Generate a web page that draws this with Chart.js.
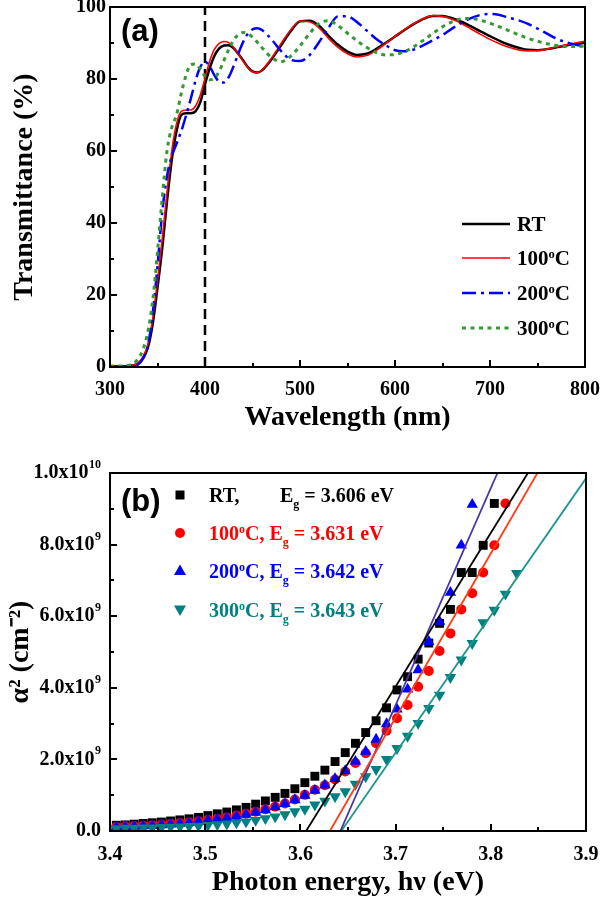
<!DOCTYPE html>
<html>
<head>
<meta charset="utf-8">
<script src="https://cdn.jsdelivr.net/npm/chart.js@4.4.1/dist/chart.umd.min.js"></script>
<style>
html,body{margin:0;padding:0;background:#fff;}
body{width:600px;height:897px;position:relative;overflow:hidden;font-family:'Liberation Serif','Times New Roman',serif;font-weight:bold;}
#wrapA{position:absolute;left:0;top:0;width:600px;height:440px;}
#wrapB{position:absolute;left:0;top:440px;width:600px;height:457px;}
.lbl{position:absolute;white-space:nowrap;line-height:24px;height:24px;}
.lgA{font-size:21px;color:#000;}
.lgB{font-size:20px;}
.lbl sup{font-size:0.6em;position:relative;top:-0.55em;vertical-align:baseline;line-height:0;}
.lbl sub{font-size:0.6em;position:relative;top:0.5em;vertical-align:baseline;line-height:0;}
.panel{position:absolute;font-family:'Liberation Sans',Arial,sans-serif;font-weight:bold;font-size:31px;line-height:34px;color:#000;}
</style>
</head>
<body>
<div id="wrapA"><canvas id="chartA" width="600" height="440"></canvas></div>
<div id="wrapB"><canvas id="chartB" width="600" height="457"></canvas></div>

<svg width="600" height="897" style="position:absolute;left:0;top:0;pointer-events:none">
  <line x1="462" y1="224" x2="510" y2="224" stroke="#000000" stroke-width="2.5"/>
  <line x1="462" y1="258" x2="510" y2="258" stroke="#FF0000" stroke-width="1.6"/>
  <line x1="462" y1="293" x2="510" y2="293" stroke="#0000FF" stroke-width="2.5" stroke-dasharray="14 5 3 5"/>
  <line x1="462" y1="328" x2="510" y2="328" stroke="#339933" stroke-width="3" stroke-dasharray="4 4.5"/>
  <rect x="175.5" y="490.5" width="9" height="9" fill="#000000"/>
  <circle cx="180" cy="533" r="5" fill="#FF0000"/>
  <polygon points="180,564.5 186,575 174,575" fill="#0000FF"/>
  <polygon points="180,616 186,605.5 174,605.5" fill="#008080"/>
</svg>

<div class="panel" style="left:121px;top:14px">(a)</div>
<div class="panel" style="left:121px;top:484px">(b)</div>

<div class="lbl lgA" style="left:517px;top:212px">RT</div>
<div class="lbl lgA" style="left:517px;top:246px">100<sup>o</sup>C</div>
<div class="lbl lgA" style="left:517px;top:281px">200<sup>o</sup>C</div>
<div class="lbl lgA" style="left:517px;top:316px">300<sup>o</sup>C</div>

<div class="lbl lgB" style="left:209px;top:483px;color:#000000">RT,</div>
<div class="lbl lgB" style="left:280px;top:483px;color:#000000">E<sub>g</sub> = 3.606 eV</div>
<div class="lbl lgB" style="left:209px;top:521px;color:#FF0000">100<sup>o</sup>C, E<sub>g</sub> = 3.631 eV</div>
<div class="lbl lgB" style="left:209px;top:559px;color:#0000FF">200<sup>o</sup>C, E<sub>g</sub> = 3.642 eV</div>
<div class="lbl lgB" style="left:209px;top:598px;color:#008080">300<sup>o</sup>C, E<sub>g</sub> = 3.643 eV</div>

<script>
// ---------------- Panel (a): transmittance ----------------
const wavelength = [300,310,320,325,330,335,340,345,350,355,360,365,370,375,380,385,390,395,400,405,410,415,420,425,430,435,440,445,450,455,460,470,480,490,500,510,520,530,540,550,560,570,580,590,600,610,620,630,640,650,660,670,680,690,700,710,720,730,740,750,760,770,780,790,800];
const transRT  = [0.2,0.2,0.3,0.5,1.0,2.5,5.5,12,22,33,46,57.5,65.5,70,70.5,70.5,71,73.5,78.5,83,86.5,88.5,89.3,89.4,88.6,87,85.2,83.3,82.1,81.8,82.4,85.5,89.3,93.2,96.0,96.2,94.8,92.0,89.5,87.6,86.7,87.0,88.3,90.0,91.8,93.6,95.3,96.7,97.5,97.5,96.9,95.9,94.6,93.2,91.9,90.6,89.5,88.7,88.1,88.0,88.3,88.8,89.3,89.7,90.1];
const trans100 = [0.2,0.2,0.3,0.6,1.2,3,6.5,13.5,24,35.5,48.5,60,67.5,71,71.4,71.4,72.5,75.5,80.2,85,88.3,89.9,90.4,90.1,88.8,87,85,83.2,82,81.8,82.5,85.8,89.8,93.6,96.1,95.9,94.2,91.3,88.8,87,86.1,86.5,87.9,89.8,91.8,93.7,95.4,96.8,97.6,97.4,96.6,95.4,93.9,92.4,91.0,89.8,88.8,88.1,87.8,87.9,88.3,88.9,89.5,90.0,90.5];
const trans200 = [0.2,0.2,0.2,0.3,0.8,2.5,6,15,28,43,53,58.5,62,65.5,69.8,74.5,79.5,83.3,84.8,83.5,81,79.2,79,80.5,83.5,87,90.2,92.6,93.8,94.1,93.6,91,87.8,85.4,85,86.6,90.2,94.2,97.4,97.4,95.8,93.5,91.2,89.4,88.0,87.7,88.2,89.4,90.8,92.2,94.0,95.6,96.9,97.8,98.1,97.8,97.0,96.3,95.3,94.0,92.6,91.2,90.2,89.5,89.2];
const trans300 = [0.3,0.3,0.5,1.0,2.5,5,10,18.5,32,47,60,66.5,70,76,81,84,84.2,82.8,80.8,79.8,80.2,82.2,85.2,88.3,90.8,92.3,92.9,92.6,91.6,90.2,88.7,86.0,84.8,86.3,89.2,92.6,95.4,96.2,94.8,92.7,90.6,88.8,87.4,86.7,86.8,87.6,89.0,90.8,92.7,94.5,95.9,96.7,96.8,96.3,95.5,94.5,93.4,92.3,91.3,90.5,89.8,89.3,89.0,89.0,89.2];
const seriesLabelsA = ['RT','100°C','200°C','300°C'];
const xTicksA = [300,400,500,600,700,800];
const xTickLabelsA = ['300','400','500','600','700','800'];
const xMinorA = [350,450,550,650,750];
const yTicksA = [0,20,40,60,80,100];
const yTickLabelsA = ['0','20','40','60','80','100'];
const yMinorA = [10,30,50,70,90];
const guideWavelength = [400,400];
const guideTrans = [0,100];

// ---------------- Panel (b): alpha^2 vs photon energy ----------------
const photonEnergy = [3.4066,3.4160,3.4254,3.4349,3.4444,3.4540,3.4637,3.4734,3.4831,3.4930,3.5028,3.5127,3.5227,3.5328,3.5429,3.5530,3.5632,3.5735,3.5838,3.5942,3.6047,3.6152,3.6257,3.6364,3.6471,3.6578,3.6686,3.6795,3.6905,3.7015,3.7126,3.7237,3.7349,3.7462,3.7576,3.7690,3.7805,3.7920,3.8037,3.8154,3.8272];
// values in units of 1e9 cm^-2
const alpha2RT  = [0.16,0.17,0.19,0.21,0.23,0.25,0.28,0.31,0.34,0.38,0.43,0.48,0.53,0.59,0.66,0.75,0.84,0.94,1.05,1.18,1.35,1.53,1.70,1.94,2.19,2.45,2.75,3.08,3.44,3.94,4.31,4.80,5.25,5.80,6.19,7.22,7.22,7.98,9.15,null,null];
const alpha2100 = [0.12,0.13,0.14,0.15,0.16,0.18,0.20,0.22,0.24,0.27,0.31,0.34,0.38,0.43,0.48,0.54,0.61,0.68,0.77,0.88,1.01,1.15,1.28,1.44,1.66,1.90,2.17,2.45,2.80,3.15,3.52,4.03,4.47,5.03,5.52,6.19,6.64,7.22,7.98,9.15,null];
const alpha2200 = [0.11,0.12,0.13,0.14,0.15,0.17,0.19,0.21,0.23,0.26,0.30,0.33,0.37,0.41,0.46,0.52,0.59,0.67,0.76,0.87,0.99,1.13,1.28,1.46,1.68,1.94,2.22,2.56,2.99,3.40,3.96,4.50,5.29,5.85,6.66,7.98,9.12,null,null,null,null];
const alpha2300 = [0.07,0.08,0.08,0.09,0.09,0.10,0.11,0.12,0.13,0.14,0.16,0.18,0.20,0.23,0.26,0.30,0.35,0.40,0.46,0.54,0.61,0.73,0.84,0.96,1.10,1.31,1.52,1.72,2.00,2.31,2.65,3.01,3.43,3.80,4.29,4.78,5.24,5.82,6.17,6.62,7.20];
const bandGaps = [3.606,3.631,3.642,3.643];
const fitEndEnergy = [3.839,3.849,3.807,3.9];
const fitEndAlpha2 = [10,10,10,9.85];
const xTicksB = [3.4,3.5,3.6,3.7,3.8,3.9];
const xTickLabelsB = ['3.4','3.5','3.6','3.7','3.8','3.9'];
const xMinorB = [3.45,3.55,3.65,3.75,3.85];
const yTicksB = [0,2,4,6,8,10];
const yTickMantissaB = ['0.0','2.0x10','4.0x10','6.0x10','8.0x10','1.0x10'];
const yTickExponentB = ['','9','9','9','9','10'];

// ---------------- drawing ----------------
const FONT = "'Liberation Serif','Times New Roman',serif";
Chart.defaults.font.family = FONT;
Chart.defaults.color = '#000';

const frameTicks = {
  id: 'frameTicks',
  afterDatasetsDraw(chart, args, o) {
    const {ctx, chartArea: a, scales: {x, y}} = chart;
    ctx.save();
    ctx.strokeStyle = '#000';
    ctx.lineWidth = 2;
    ctx.setLineDash([]);
    ctx.beginPath();
    const tx = (vals, len) => vals.forEach(v => { const p = Math.round(x.getPixelForValue(v)); ctx.moveTo(p, a.bottom); ctx.lineTo(p, a.bottom - len); });
    const ty = (vals, len) => vals.forEach(v => { const p = Math.round(y.getPixelForValue(v)); ctx.moveTo(a.left, p); ctx.lineTo(a.left + len, p); });
    tx(o.xMajor, 7); tx(o.xMinor, 4); ty(o.yMajor, 7); ty(o.yMinor, 4);
    ctx.stroke();
    ctx.strokeRect(a.left, a.top, a.right - a.left, a.bottom - a.top);
    // optional y labels with superscript exponents
    if (o.mantissa) {
      ctx.fillStyle = '#000';
      ctx.textBaseline = 'middle';
      o.yMajor.forEach((v, i) => {
        const p = y.getPixelForValue(v);
        let xr = a.left - o.labelPad;
        const exp = o.exponent[i];
        if (exp) {
          ctx.font = 'bold 12px ' + FONT;
          ctx.textAlign = 'right';
          ctx.fillText(exp, xr, p - 8);
          xr -= ctx.measureText(exp).width + 0.5;
        }
        ctx.font = 'bold 20px ' + FONT;
        ctx.textAlign = 'right';
        ctx.fillText(o.mantissa[i], xr, p);
      });
    }
    ctx.restore();
  }
};

function axis(min, max, ticks, labels, labelPad, title, titlePad, isX, size, showLabels) {
  return {
    type: 'linear', min: min, max: max,
    grid: {display: false, drawTicks: false},
    border: {display: false},
    afterBuildTicks: s => { s.ticks = ticks.map(v => ({value: v})); },
    ticks: {
      display: showLabels,
      callback: (v, i) => labels[i],
      font: {family: FONT, size: 20, weight: 'bold'},
      color: '#000', padding: labelPad, autoSkip: false, maxRotation: 0, minRotation: 0
    },
    title: {display: true, text: title, color: '#000',
      font: {family: FONT, size: 28, weight: 'bold'}, padding: titlePad},
    afterFit: s => {
      if (isX) s.height = size; else s.width = size;
      s.paddingTop = 0; s.paddingBottom = 0; s.paddingLeft = 0; s.paddingRight = 0;
    }
  };
}

const styleA = [
  {color: '#000000', width: 2.5, dash: [], order: 4},
  {color: '#FF0000', width: 1.6, dash: [], order: 3},
  {color: '#0000FF', width: 2.5, dash: [14, 5, 3, 5], order: 2},
  {color: '#339933', width: 3, dash: [4, 4.5], order: 1}
];
const transSeries = [transRT, trans100, trans200, trans300];

const dsA = transSeries.map((vals, k) => ({
  label: seriesLabelsA[k],
  data: wavelength.map((w, i) => ({x: w, y: vals[i]})),
  showLine: true, pointRadius: 0,
  borderColor: styleA[k].color, borderWidth: styleA[k].width, borderDash: styleA[k].dash,
  cubicInterpolationMode: 'monotone', fill: false, order: styleA[k].order
}));
dsA.push({
  label: 'guide',
  data: guideWavelength.map((w, i) => ({x: w, y: guideTrans[i]})),
  showLine: true, pointRadius: 0, borderColor: '#000', borderWidth: 2.5, borderDash: [10, 6], order: 10
});

new Chart(document.getElementById('chartA'), {
  type: 'scatter',
  data: {datasets: dsA},
  options: {
    responsive: false, animation: false, devicePixelRatio: 1,
    layout: {padding: {top: 7, right: 15, left: 0, bottom: 0}},
    plugins: {legend: {display: false}, tooltip: {enabled: false},
      frameTicks: {xMajor: xTicksA, xMinor: xMinorA, yMajor: yTicksA, yMinor: yMinorA}},
    scales: {
      x: axis(300, 800, xTicksA, xTickLabelsA, 11, 'Wavelength (nm)', {top: 0, bottom: 5}, true, 73, true),
      y: axis(0, 100, yTicksA, yTickLabelsA, 4, 'Transmittance (%)', {top: 8, bottom: 0}, false, 110, true)
    }
  },
  plugins: [frameTicks]
});

const markerB = [
  {style: 'rect', radius: 6.3, rot: 0, color: '#000000', line: '#000000'},
  {style: 'circle', radius: 5, rot: 0, color: '#FF0000', line: '#FF3C14'},
  {style: 'triangle', radius: 6.6, rot: 0, color: '#0000FF', line: '#4B34A0'},
  {style: 'triangle', radius: 6.6, rot: 180, color: '#008080', line: '#1F968C'}
];
const alphaSeries = [alpha2RT, alpha2100, alpha2200, alpha2300];

const dsB = [];
alphaSeries.forEach((vals, k) => {
  dsB.push({
    data: photonEnergy.map((e, i) => vals[i] == null ? null : {x: e, y: vals[i]}).filter(p => p),
    showLine: false, pointStyle: markerB[k].style, pointRadius: markerB[k].radius,
    rotation: markerB[k].rot, backgroundColor: markerB[k].color, borderColor: markerB[k].color,
    borderWidth: 0, order: 10 - k
  });
});
alphaSeries.forEach((vals, k) => {
  dsB.push({
    data: [{x: bandGaps[k], y: 0}, {x: fitEndEnergy[k], y: fitEndAlpha2[k]}],
    showLine: true, pointRadius: 0, borderColor: markerB[k].line, borderWidth: 1.8, order: 1
  });
});

const yTickLabelsB = yTickMantissaB.map((m, i) => m + (yTickExponentB[i] ? '^' + yTickExponentB[i] : ''));

new Chart(document.getElementById('chartB'), {
  type: 'scatter',
  data: {datasets: dsB},
  options: {
    responsive: false, animation: false, devicePixelRatio: 1,
    layout: {padding: {top: 33, right: 14, left: 0, bottom: 0}},
    plugins: {legend: {display: false}, tooltip: {enabled: false},
      frameTicks: {xMajor: xTicksB, xMinor: xMinorB, yMajor: yTicksB, yMinor: [1,3,5,7,9],
        mantissa: yTickMantissaB, exponent: yTickExponentB, labelPad: 9}},
    scales: {
      x: axis(3.4, 3.9, xTicksB, xTickLabelsB, 12, 'Photon energy, hν (eV)', {top: 0, bottom: -3}, true, 66, true),
      y: axis(0, 10, yTicksB, yTickLabelsB, 10, 'α² (cm⁻²)', {top: 4, bottom: 0}, false, 110, false)
    }
  },
  plugins: [frameTicks]
});
</script>
</body>
</html>
